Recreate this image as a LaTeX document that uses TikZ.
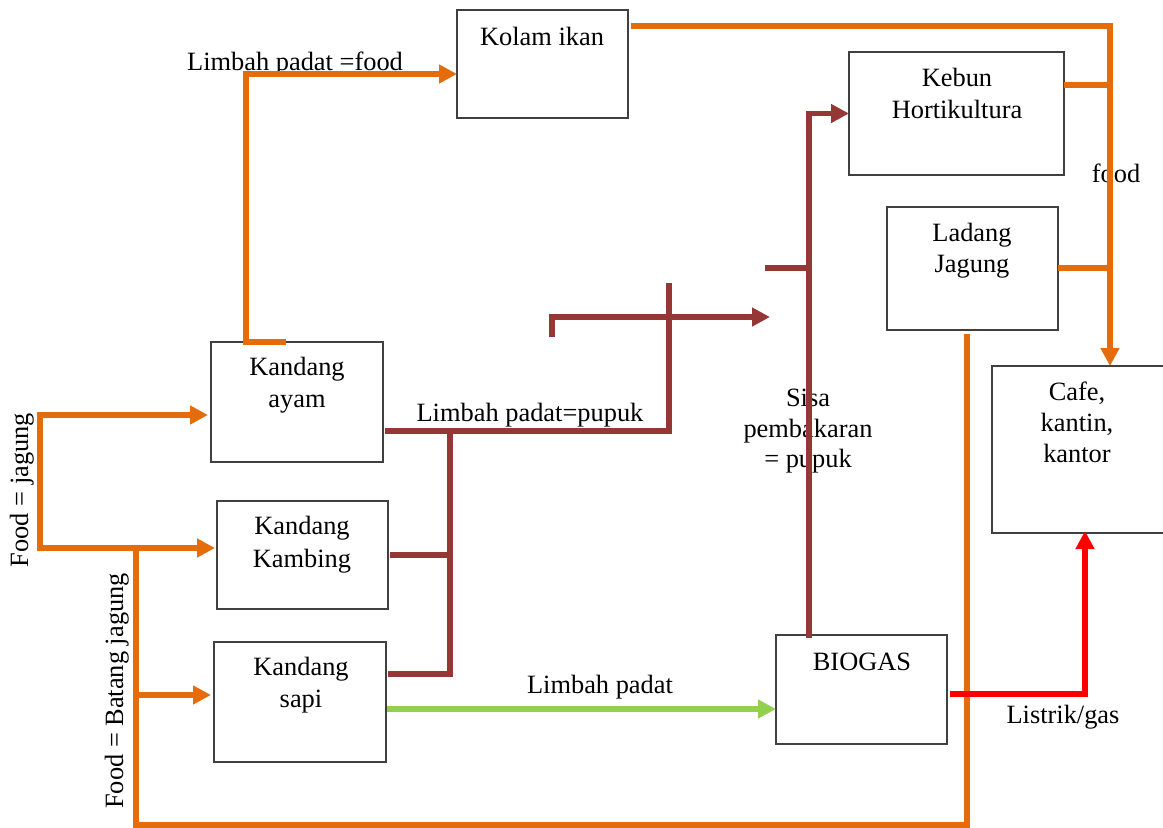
\documentclass[tikz,border=0pt]{standalone}
\usepackage{fontspec}
\setmainfont{Liberation Serif}
\usetikzlibrary{arrows.meta}
\definecolor{orng}{HTML}{E46C0A}
\definecolor{brwn}{HTML}{953735}
\definecolor{grn}{HTML}{92D050}
\definecolor{rd}{HTML}{FF0000}
\definecolor{boxline}{HTML}{404040}
\begin{document}
\begin{tikzpicture}[x=1pt,y=-1pt,
  box/.style={draw=boxline, line width=1.3pt, rectangle, inner sep=0pt, outer sep=0pt, anchor=north west},
  txt/.style={font=\fontsize{26.4}{31.5}\selectfont, anchor=base, inner sep=0pt},
  oline/.style={draw=orng, line width=5.6pt},
  bline/.style={draw=brwn, line width=5.6pt},
  gline/.style={draw=grn, line width=5.6pt},
  rline/.style={draw=rd, line width=6pt},
  tip/.style={-{Triangle[length=18pt,width=18pt]}},
  tips/.style={{Triangle[length=18pt,width=18pt]}-{Triangle[length=18pt,width=18pt]}}
]
\useasboundingbox (0,0) rectangle (1163,828);
\clip (0,0) rectangle (1163,828);
\fill[white] (0,0) rectangle (1163,828);

% boxes
\node[box, minimum width=171pt, minimum height=108pt] (kolam) at (457,10) {};
\node[box, minimum width=215pt, minimum height=123pt] (kebun) at (849,52) {};
\node[box, minimum width=171pt, minimum height=123pt] (ladang) at (887,207) {};
\node[box, minimum width=180pt, minimum height=167pt] (cafe) at (992,366) {};
\node[box, minimum width=172pt, minimum height=120pt] (ayam) at (211,342) {};
\node[box, minimum width=171pt, minimum height=108pt] (kambing) at (217,501) {};
\node[box, minimum width=172pt, minimum height=120pt] (sapi) at (214,642) {};
\node[box, minimum width=171pt, minimum height=109pt] (biogas) at (776,635) {};

% texts in boxes
\node[txt] (kolamt) at (542,45) {Kolam ikan};
\node[txt] (kebunt1) at (957,86) {Kebun};
\node[txt] (kebunt2) at (957,118) {Hortikultura};
\node[txt] (ladangt1) at (972,241) {Ladang};
\node[txt] (ladangt2) at (972,272) {Jagung};
\node[txt] (cafet1) at (1077,400) {Cafe,};
\node[txt] (cafet2) at (1077,431) {kantin,};
\node[txt] (cafet3) at (1077,462) {kantor};
\node[txt] (ayamt1) at (297,375) {Kandang};
\node[txt] (ayamt2) at (297,407) {ayam};
\node[txt] (kambingt1) at (302,534) {Kandang};
\node[txt] (kambingt2) at (302,567) {Kambing};
\node[txt] (sapit1) at (301,675) {Kandang};
\node[txt] (sapit2) at (301,707) {sapi};
\node[txt] (biogast) at (862,670) {BIOGAS};

% labels
\node[txt] (lfood) at (295,70) {Limbah padat =food};
\node[txt] (food) at (1116,182) {food};
\node[txt] (lpupuk) at (530,421) {Limbah padat=pupuk};
\node[txt] (lpadat) at (600,693) {Limbah padat};
\node[txt] (sisa1) at (808,406) {Sisa};
\node[txt] (sisa2) at (808,437) {pembakaran};
\node[txt] (sisa3) at (808,467) {= pupuk};
\node[txt] (listrik) at (1063,723) {Listrik/gas};
\node[txt, rotate=90] (fjagung) at (28,490) {Food = jagung};
\node[txt, rotate=90] (fbatang) at (123,691) {Food = Batang jagung};

% free ends
\coordinate (tick) at (552,337);
\coordinate (pupukend) at (770,317);
\coordinate (sisastart) at (765,268);

% orange connectors
\draw[oline, tip] ([xshift=75pt]ayam.north west) -- (246,342) |- ([yshift=-64pt]kolam.north west);
\draw[oline, tip] ([xshift=3pt,yshift=-16pt]kolam.north east) -| ([xshift=118pt]cafe.north west);
\draw[oline] ([yshift=-33pt]kebun.north east) -- (1110,85);
\draw[oline] ([yshift=-61pt]ladang.north east) -- (1110,268);
\draw[oline] ([xshift=80pt,yshift=-4pt]ladang.south west) -- (967,825) -- (136,825) -- (136,548);
\draw[oline, tip] (136,695) -- ([xshift=-3pt,yshift=7pt]sapi.west);
\draw[oline, tips] ([xshift=-3pt,yshift=-13pt]ayam.west) -- (40,415) -- (40,548) -- ([xshift=-2pt,yshift=7pt]kambing.west);

% brown connectors
\draw[bline] ([xshift=2pt,yshift=-29pt]ayam.east) -- (669,431) -- (669,283);
\draw[bline, tip] (tick) -- (552,317) -- (pupukend);
\draw[bline] ([xshift=2pt]kambing.east) -- ++(60,0);
\draw[bline] ([xshift=2pt,yshift=28pt]sapi.east) -- (450,674) -- (450,431);
\draw[bline, tip] ([xshift=33pt,yshift=-3pt]biogas.north west) |- (kebun.west);
\draw[bline] (sisastart) -- (809,268);

% green connector
\draw[gline, tip] ([xshift=1pt,yshift=-7pt]sapi.east) -- ([yshift=-19.5pt]biogas.west);

% red connector
\draw[rline, tip] ([xshift=3pt,yshift=-4.5pt]biogas.east) -| ([xshift=93pt,yshift=2pt]cafe.south west);
\end{tikzpicture}
\end{document}
